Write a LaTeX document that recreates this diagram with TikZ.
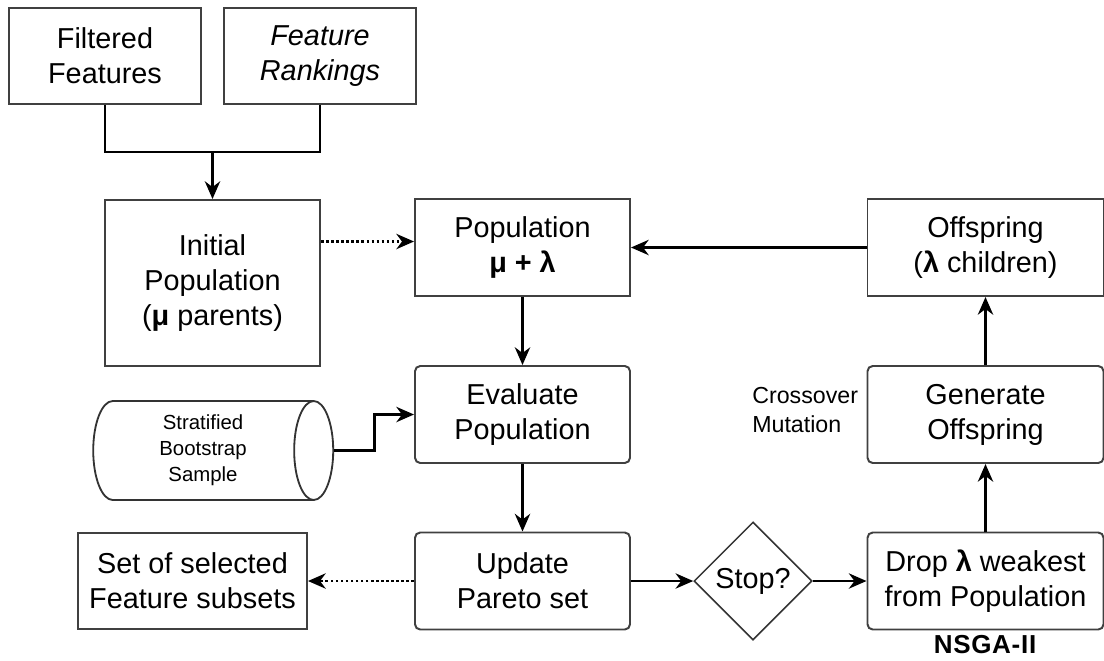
\documentclass[tikz,border=0pt]{standalone}
\usepackage{fontspec}
\setmainfont{Liberation Sans}
\usetikzlibrary{shapes.geometric,arrows.meta,positioning,calc}

\tikzset{
  box/.style={draw=black!75, line width=1.4pt, align=center, inner sep=2pt,
    font=\fontsize{20.5}{25}\selectfont},
  rbox/.style={box, rounded corners=0.13cm},
  decide/.style={diamond, draw=black!80, line width=1.1pt, aspect=1, inner sep=0pt,
    minimum size=2.95cm, font=\fontsize{20.5}{25}\selectfont},
  drum/.style={cylinder, draw=black!80, line width=1.3pt, shape aspect=0.55,
    align=center, inner sep=0pt, font=\fontsize{14.5}{18.5}\selectfont},
  arr/.style={line width=2.1pt, -{Stealth[length=0.44cm,width=0.38cm,inset=0.14cm]}},
  dotarr/.style={arr, dash pattern=on 1.8pt off 1.8pt},
  link/.style={line width=2.1pt}
}

\begin{document}
\begin{tikzpicture}
  \useasboundingbox (0,0) rectangle (27.6,-16.5);

  % inputs
  \node[box, minimum width=4.8cm, minimum height=2.4cm] (filt) at (2.625,-1.4) {Filtered\\Features};
  \node[box, minimum width=4.8cm, minimum height=2.4cm] (rank) at (8.0,-1.4) {\itshape Feature\\\itshape Rankings};
  \coordinate (mrg) at (5.3125,-3.8);

  % main loop
  \node[box, minimum width=5.375cm, minimum height=4.15cm] (init) at (5.3125,-7.075) {Initial\\Population\\(\textbf{μ} parents)};
  \node[box, minimum width=5.375cm, minimum height=2.425cm] (pop) at (13.0625,-6.1875) {Population\\\textbf{μ + λ}};
  \node[box, minimum width=5.9cm, minimum height=2.425cm] (offs) at (24.6375,-6.1875) {Offspring\\(\textbf{λ} children)};
  \node[rbox, minimum width=5.375cm, minimum height=2.425cm] (eval) at (13.0625,-10.3625) {Evaluate\\Population};
  \node[rbox, minimum width=5.9cm, minimum height=2.425cm] (gen) at (24.6375,-10.3625) {Generate\\Offspring};
  \node[drum, minimum height=6cm, minimum width=2.475cm] (cyl) at (5.075,-11.2625) {Stratified\\Bootstrap\\Sample};
  \node[rbox, minimum width=5.375cm, minimum height=2.425cm] (upd) at (13.0625,-14.525) {Update\\Pareto set};
  \node[box, minimum width=5.725cm, minimum height=2.4cm] (sel) at (4.8125,-14.525) {Set of selected\\Feature subsets};
  \node[decide] (stop) at (18.825,-14.525) {Stop?};
  \node[rbox, minimum width=5.9cm, minimum height=2.425cm] (drop) at (24.6375,-14.525) {Drop \textbf{λ} weakest\\from Population};

  % labels
  \node[anchor=west, align=left, inner sep=0pt, font=\fontsize{16.5}{20.5}\selectfont] (ops) at (18.8,-10.25) {Crossover\\Mutation};
  \node[font=\fontsize{18.5}{22}\bfseries, inner sep=0pt] (algo) at (24.625,-16.12) {N\kern0.5pt S\kern0.5pt G\kern0.5pt A\kern0.5pt -\kern0.5pt I\kern0.5pt I};

  % connectors
  \draw[link] (filt.south) |- (mrg) -| (rank.south);
  \draw[arr] (mrg) -- (init);
  \coordinate (popin) at ([yshift=0.15cm]pop.west);
  \draw[dotarr] (init.east |- popin) -- (popin);
  \draw[arr] (offs) -- (pop);
  \draw[arr] (pop) -- (eval);
  \draw[arr] (cyl.east) -- ++(1,0) |- (eval.west);
  \draw[arr] (eval) -- (upd);
  \draw[dotarr] (upd) -- (sel);
  \draw[arr] (upd) -- (stop);
  \draw[arr] (stop) -- (drop);
  \draw[arr] (drop) -- (gen);
  \draw[arr] (gen) -- (offs);
\end{tikzpicture}
\end{document}
